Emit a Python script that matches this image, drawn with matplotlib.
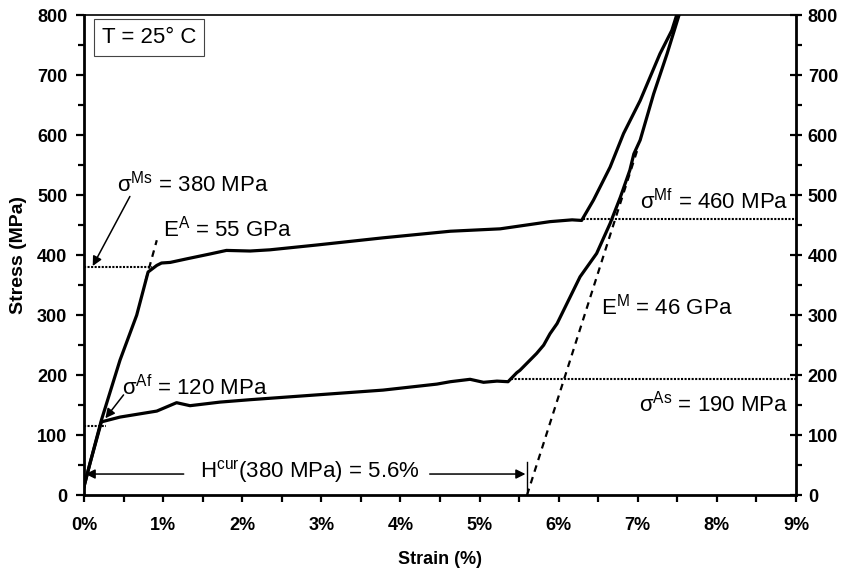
# Spannungs-Dehnungs-Kurve SMA bei T = 25 °C
import matplotlib.pyplot as plt
from matplotlib.ticker import MultipleLocator, FuncFormatter

plt.rcParams['font.family'] = ['Liberation Sans', 'DejaVu Sans']
plt.rcParams['mathtext.fontset'] = 'custom'
plt.rcParams['mathtext.rm'] = 'Liberation Sans'
plt.rcParams['mathtext.it'] = 'Liberation Sans:italic'

# ======================
# Daten
# ======================
load_strain = [0, 0.076, 0.22, 0.455, 0.666, 0.75, 0.81, 0.92, 0.98, 1.09, 1.30, 1.59,
               1.80, 2.10, 2.35, 2.94, 3.78, 4.63, 5.26, 5.47, 5.89, 6.17, 6.29, 6.44,
               6.65, 6.82, 7.03, 7.28, 7.43, 7.49]
load_stress = [14, 53, 125, 225, 300, 342, 372, 383, 387, 388, 394, 402,
               408, 407, 409, 417, 429, 440, 444, 448, 456, 459, 458, 492,
               547, 603, 658, 736, 775, 800]

unload_strain = [7.52, 7.37, 7.20, 7.03, 6.95, 6.90, 6.78, 6.65, 6.48, 6.27, 5.98, 5.89,
                 5.81, 5.72, 5.51, 5.47, 5.36, 5.22, 5.05, 4.88, 4.63, 4.46, 3.78, 2.94,
                 2.10, 1.72, 1.34, 1.17, 0.92, 0.455, 0.22, 0.076, 0]
unload_stress = [800, 736, 669, 592, 569, 542, 497, 453, 403, 364, 286, 269,
                 250, 236, 208, 204, 189, 190, 188, 193, 189, 185, 175, 167,
                 159, 155, 149, 154, 140, 130, 122, 53, 14]

sig_ms = 380
sig_af = 115
sig_as = 193
sig_mf = 460

ea_strain = [0.78, 0.92]
ea_stress = [358, 425]
em_strain = [5.6, 7.0]
em_stress = [0, 578]
h_cur = 5.6

# ======================
# Plot
# ======================
fig = plt.figure(figsize=(8.52, 5.73), dpi=100)
ax = fig.add_axes([0.0986, 0.1361, 0.8357, 0.837])

ax.plot(load_strain, load_stress, color='k', lw=2.3, solid_joinstyle='round')
ax.plot(unload_strain, unload_stress, color='k', lw=2.3, solid_joinstyle='round')

ax.plot(ea_strain, ea_stress, color='k', lw=1.6, ls=(0, (3, 2.5)))
ax.plot(em_strain, em_stress, color='k', lw=1.6, ls=(0, (3, 2.5)))

dots = (0, (1, 0.7))
ax.plot([0, 0.86], [sig_ms, sig_ms], color='k', lw=1.5, ls=dots)
ax.plot([0, 0.28], [sig_af, sig_af], color='k', lw=1.5, ls=dots)
ax.plot([5.4, 9], [sig_as, sig_as], color='k', lw=1.5, ls=dots)
ax.plot([6.31, 9], [sig_mf, sig_mf], color='k', lw=1.5, ls=dots)

# H_cur Markierung
ax.plot([h_cur, h_cur], [0, 55], color='k', lw=1)

arrow = dict(arrowstyle='-|>', color='k', lw=1.1, mutation_scale=14, shrinkA=0, shrinkB=0)
ax.annotate('', xy=(0.02, 35), xytext=(1.26, 35), arrowprops=arrow)
ax.annotate('', xy=(h_cur - 0.02, 35), xytext=(4.37, 35), arrowprops=arrow)
ax.annotate('', xy=(0.11, 382), xytext=(0.58, 498), arrowprops=arrow)
ax.annotate('', xy=(0.27, 128), xytext=(0.5, 167), arrowprops=arrow)

fs = 16
ax.text(1.47, 39, r'$\mathrm{H}^{\mathrm{cur}}$(380 MPa) = 5.6%', fontsize=fs, va='center')
ax.text(0.42, 520, r'$\mathrm{\sigma}^{\mathrm{Ms}}$ = 380 MPa', fontsize=fs, va='center')
ax.text(1.0, 445, r'$\mathrm{E}^{\mathrm{A}}$ = 55 GPa', fontsize=fs, va='center')
ax.text(0.48, 180, r'$\mathrm{\sigma}^{\mathrm{Af}}$ = 120 MPa', fontsize=fs, va='center')
ax.text(6.54, 314, r'$\mathrm{E}^{\mathrm{M}}$ = 46 GPa', fontsize=fs, va='center')
ax.text(8.9, 489, r'$\mathrm{\sigma}^{\mathrm{Mf}}$ = 460 MPa', fontsize=fs, va='center', ha='right')
ax.text(8.9, 153, r'$\mathrm{\sigma}^{\mathrm{As}}$ = 190 MPa', fontsize=fs, va='center', ha='right')

ax.text(0.23, 763, 'T = 25° C', fontsize=fs, va='center',
        bbox=dict(boxstyle='square,pad=0.35', fc='white', ec='#444444', lw=0.8))

# Achsen
ax.set_xlim(0, 9)
ax.set_ylim(0, 800)
ax.xaxis.set_major_locator(MultipleLocator(1))
ax.xaxis.set_minor_locator(MultipleLocator(0.5))
ax.yaxis.set_major_locator(MultipleLocator(100))
ax.yaxis.set_minor_locator(MultipleLocator(50))
ax.xaxis.set_major_formatter(FuncFormatter(lambda v, p: f'{v:.0f}%'))

ax.tick_params(axis='x', which='both', direction='out', length=5, width=1.6,
               pad=11, labelsize=13)
ax.tick_params(axis='y', which='major', direction='out', length=6, width=1.6,
               pad=6, labelsize=13)
ax.tick_params(axis='y', which='minor', direction='out', length=4, width=1.6)
for lab in ax.get_xticklabels() + ax.get_yticklabels():
    lab.set_fontweight('bold')

ax.set_xlabel('Strain (%)', fontsize=13, fontweight='bold', labelpad=12)
ax.set_ylabel('Stress (MPa)', fontsize=14, fontweight='bold', labelpad=7)

ax2 = ax.twinx()
ax2.set_ylim(0, 800)
ax2.yaxis.set_major_locator(MultipleLocator(100))
ax2.yaxis.set_minor_locator(MultipleLocator(50))
ax2.tick_params(axis='y', which='major', direction='inout', length=9, width=1.6,
                pad=4, labelsize=13)
ax2.tick_params(axis='y', which='minor', direction='out', length=4, width=1.6)
for lab in ax2.get_yticklabels():
    lab.set_fontweight('bold')

for s in ['left', 'bottom']:
    ax.spines[s].set_linewidth(2)
ax.spines['right'].set_visible(False)
ax.spines['top'].set_linewidth(1.2)
for s in ['left', 'top', 'bottom']:
    ax2.spines[s].set_visible(False)
ax2.spines['right'].set_linewidth(2)

fig.savefig('out.png', dpi=100)
